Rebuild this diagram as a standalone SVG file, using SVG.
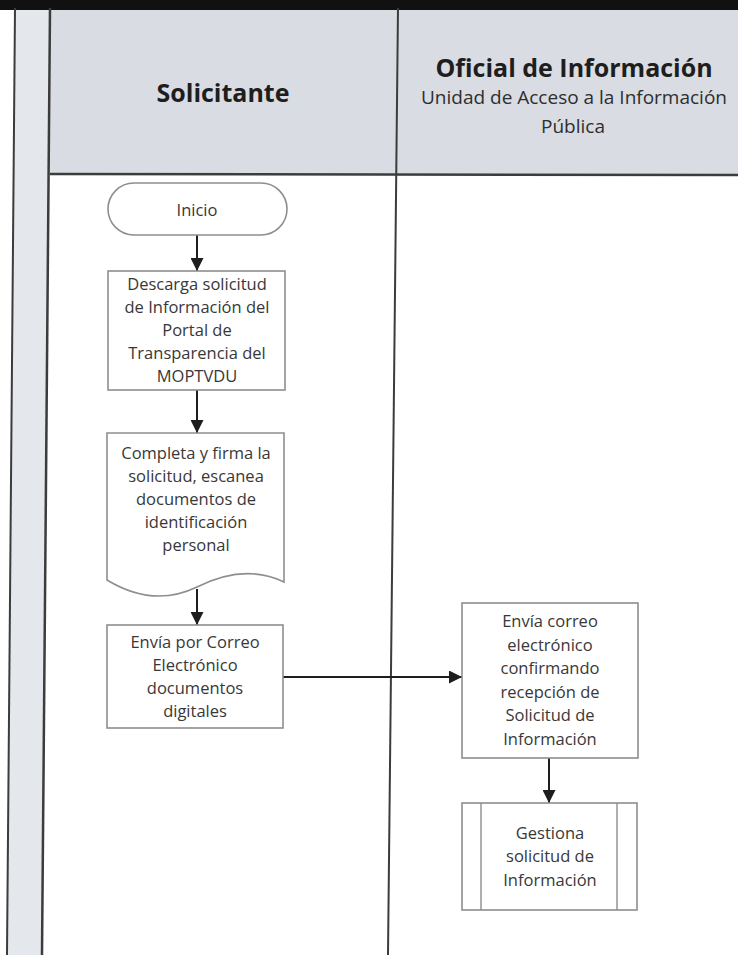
<svg xmlns="http://www.w3.org/2000/svg" width="738" height="955" viewBox="0 0 738 955">
  <defs>
    <marker id="arrow" viewBox="0 0 10 10" refX="10" refY="5" markerWidth="7" markerHeight="6.5" markerUnits="strokeWidth" orient="auto">
      <path d="M0,0 L10,5 L0,10 Z" fill="#1e1e1e"/>
    </marker>
    <style>
      .node { fill: #ffffff; stroke: #8e8e8e; stroke-width: 1.6; }
      .inner { fill: none; stroke: #8e8e8e; stroke-width: 1.4; }
      .lbl { font-family: "Open Sans", "Noto Sans", sans-serif; font-size: 16.5px; fill: #383838; text-anchor: middle; }
      .lane-title { font-family: "Open Sans", "Noto Sans", sans-serif; font-weight: bold; font-size: 25px; fill: #1e1e1e; text-anchor: middle; }
      .lane-sub { font-family: "Open Sans", "Noto Sans", sans-serif; font-size: 19px; fill: #2e2e2e; text-anchor: middle; }
      .conn { fill: none; stroke: #1e1e1e; stroke-width: 2; marker-end: url(#arrow); }
      .frame { fill: none; stroke: #3c3c3c; }
    </style>
  </defs>

  <!-- page background -->
  <rect x="0" y="0" width="738" height="955" fill="#ffffff"/>

  <!-- swimlane frame -->
  <g id="lanes">
    <polygon points="15,8 50,8 42,955 7,955" fill="#e4e7ec"/>
    <rect x="50" y="8" width="688" height="167" fill="#d9dce2"/>
    <rect x="0" y="0" width="738" height="10" fill="#111111"/>
    <line class="frame" x1="15" y1="8" x2="7" y2="955" stroke-width="2"/>
    <line class="frame" x1="50" y1="8" x2="42" y2="955" stroke-width="2.5"/>
    <line class="frame" x1="50" y1="174" x2="738" y2="175" stroke-width="2.5"/>
    <line class="frame" x1="398" y1="8" x2="388" y2="955" stroke-width="2"/>
    <text class="lane-title" x="223" y="102">Solicitante</text>
    <text class="lane-title" x="574" y="77">Oficial de Información</text>
    <text class="lane-sub" x="574" y="104">Unidad de Acceso a la Información</text>
    <text class="lane-sub" x="573" y="133">Pública</text>
  </g>

  <!-- connectors -->
  <g id="connectors">
    <line class="conn" x1="197" y1="235" x2="197" y2="271"/>
    <line class="conn" x1="197" y1="390" x2="197" y2="433"/>
    <line class="conn" x1="197" y1="589" x2="197" y2="625"/>
    <line class="conn" x1="283" y1="677" x2="462" y2="677"/>
    <line class="conn" x1="549" y1="758" x2="549" y2="803"/>
  </g>

  <g id="inicio">
    <rect class="node" x="108" y="183" width="179" height="52" rx="26" ry="26"/>
    <text class="lbl" x="197" y="216">Inicio</text>
  </g>

  <g id="descarga">
    <rect class="node" x="108" y="271" width="177" height="119"/>
    <text class="lbl" x="197" y="290">Descarga solicitud</text>
    <text class="lbl" x="197" y="313">de Información del</text>
    <text class="lbl" x="197" y="336">Portal de</text>
    <text class="lbl" x="197" y="359">Transparencia del</text>
    <text class="lbl" x="197" y="382">MOPTVDU</text>
  </g>

  <g id="completa">
    <path class="node" d="M107,433 H284 V582 C255,568 225,573 197,587 C170,600 140,600 107,580 Z"/>
    <text class="lbl" x="196" y="459">Completa y firma la</text>
    <text class="lbl" x="196" y="482">solicitud, escanea</text>
    <text class="lbl" x="196" y="505">documentos de</text>
    <text class="lbl" x="196" y="528">identificación</text>
    <text class="lbl" x="196" y="551">personal</text>
  </g>

  <g id="envia-correo">
    <rect class="node" x="107" y="625" width="176" height="103"/>
    <text class="lbl" x="195" y="648">Envía por Correo</text>
    <text class="lbl" x="195" y="671">Electrónico</text>
    <text class="lbl" x="195" y="694">documentos</text>
    <text class="lbl" x="195" y="717">digitales</text>
  </g>

  <g id="confirma">
    <rect class="node" x="462" y="603" width="176" height="155"/>
    <text class="lbl" x="550" y="627">Envía correo</text>
    <text class="lbl" x="550" y="651">electrónico</text>
    <text class="lbl" x="550" y="674">confirmando</text>
    <text class="lbl" x="550" y="698">recepción de</text>
    <text class="lbl" x="550" y="721">Solicitud de</text>
    <text class="lbl" x="550" y="745">Información</text>
  </g>

  <g id="gestiona">
    <rect class="node" x="462" y="803" width="175" height="107"/>
    <line class="inner" x1="481" y1="803" x2="481" y2="910"/>
    <line class="inner" x1="617" y1="803" x2="617" y2="910"/>
    <text class="lbl" x="550" y="839">Gestiona</text>
    <text class="lbl" x="550" y="862">solicitud de</text>
    <text class="lbl" x="550" y="886">Información</text>
  </g>
</svg>
